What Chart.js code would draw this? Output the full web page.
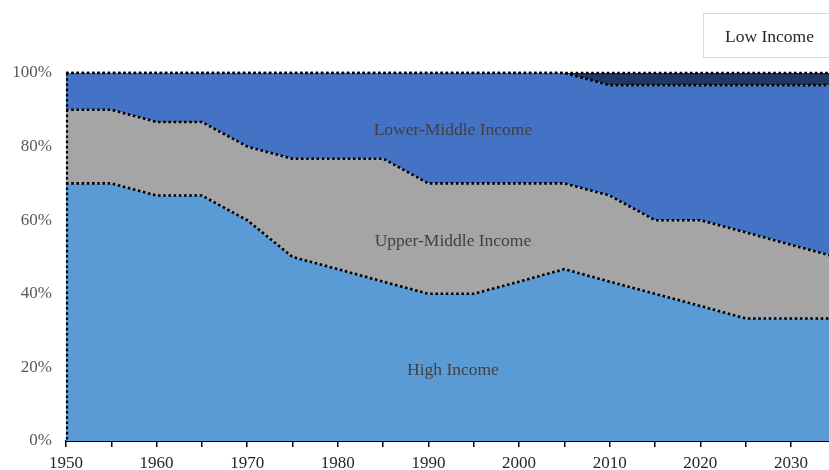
<!DOCTYPE html>
<html>
<head>
<meta charset="utf-8">
<script src="https://cdn.jsdelivr.net/npm/chart.js@4.4.1/dist/chart.umd.min.js"></script>
<style>
  html, body { margin: 0; padding: 0; background: #ffffff; }
  #wrap { width: 829px; height: 470px; }
</style>
</head>
<body>
<div id="wrap"><canvas id="c" width="829" height="470"></canvas></div>
<script>
// Share of world population by income group (%), five-year steps
const years = [1950,1955,1960,1965,1970,1975,1980,1985,1990,1995,2000,2005,2010,2015,2020,2025,2030,2035];
const highIncome  = [70,70,66.7,66.7,60,50,46.7,43.3,40,40,43.3,46.7,43.3,40,36.7,33.3,33.3,33.3];
const upperMiddle = [20,20,20,20,20,26.7,30,33.4,30,30,26.7,23.3,23.4,20,23.3,23.4,20,16.7];
const lowerMiddle = [10,10,13.3,13.3,20,23.3,23.3,23.3,30,30,30,30,30,36.7,36.7,40,43.4,46.7];
const lowIncome   = [0,0,0,0,0,0,0,0,0,0,0,0,3.3,3.3,3.3,3.3,3.3,3.3];

const seriesNames = ['High Income','Upper-Middle Income','Lower-Middle Income','Low Income'];
const xTickValues = [1950,1955,1960,1965,1970,1975,1980,1985,1990,1995,2000,2005,2010,2015,2020,2025,2030];
const xTickLabels = ['1950','','1960','','1970','','1980','','1990','','2000','','2010','','2020','','2030'];
const yTickValues = [0,20,40,60,80,100];

// In-area captions placed in data units (year, percent)
const captionText = ['Lower-Middle Income','Upper-Middle Income','High Income'];
const captionYear = [1992.7, 1992.7, 1992.7];
const captionPct  = [84.5, 54.3, 19.3];
const legendText = 'Low Income';

const SERIF = "'Liberation Serif', 'Times New Roman', serif";
const colors = ['#5b9bd5', '#a5a5a5', '#4472c4', '#203864'];
const values = [highIncome, upperMiddle, lowerMiddle, lowIncome];
const DOT = [2.6, 2.6];

const datasets = values.map((vals, i) => ({
  label: seriesNames[i],
  data: years.map((yr, k) => ({ x: yr, y: vals[k] })),
  backgroundColor: colors[i],
  borderColor: '#000000',
  borderWidth: 2.6,
  borderDash: DOT,
  borderCapStyle: 'butt',
  pointRadius: 0,
  tension: 0,
  clip: { left: 0, top: 4, right: 0, bottom: 0 },
  fill: i === 0 ? 'origin' : '-1'
}));

// Dotted left edge of the stacked areas
const leftEdge = {
  id: 'leftEdge',
  afterDatasetsDraw(chart) {
    const { ctx, chartArea } = chart;
    ctx.save();
    ctx.strokeStyle = '#000000';
    ctx.lineWidth = 2.2;
    ctx.setLineDash(DOT);
    ctx.beginPath();
    ctx.moveTo(chartArea.left + 1, chartArea.top);
    ctx.lineTo(chartArea.left + 1, chartArea.bottom);
    ctx.stroke();
    ctx.restore();
  }
};

const captions = {
  id: 'captions',
  afterDatasetsDraw(chart) {
    const { ctx, scales: { x, y } } = chart;
    ctx.save();
    ctx.font = '17.5px ' + SERIF;
    ctx.fillStyle = '#404040';
    ctx.textAlign = 'center';
    ctx.textBaseline = 'middle';
    captionText.forEach((t, i) => {
      ctx.fillText(t, x.getPixelForValue(captionYear[i]), y.getPixelForValue(captionPct[i]));
    });
    ctx.restore();
  }
};

const legendBox = {
  id: 'legendBox',
  afterDraw(chart) {
    const { ctx } = chart;
    ctx.save();
    ctx.fillStyle = '#ffffff';
    ctx.fillRect(703.5, 13.5, 140, 44);
    ctx.strokeStyle = '#d9d9d9';
    ctx.lineWidth = 1;
    ctx.strokeRect(703.5, 13.5, 140, 44);
    ctx.font = '17.5px ' + SERIF;
    ctx.fillStyle = '#262626';
    ctx.textAlign = 'left';
    ctx.textBaseline = 'middle';
    ctx.fillText(legendText, 725, 37);
    ctx.restore();
  }
};

new Chart(document.getElementById('c'), {
  type: 'line',
  data: { datasets },
  options: {
    responsive: false,
    animation: false,
    devicePixelRatio: 1,
    layout: { padding: { top: 73, right: 0, left: 0, bottom: 0 } },
    plugins: {
      legend: { display: false },
      tooltip: { enabled: false },
      filler: { propagate: false }
    },
    scales: {
      x: {
        type: 'linear',
        min: 1950,
        max: 2034.2,
        afterBuildTicks(scale) { scale.ticks = xTickValues.map(v => ({ value: v })); },
        afterFit(scale) { scale.height = 29; },
        ticks: {
          autoSkip: false,
          maxRotation: 0,
          padding: 6,
          color: '#262626',
          font: { family: SERIF, size: 17 },
          callback: (v, idx) => xTickLabels[idx]
        },
        grid: {
          display: true,
          drawOnChartArea: false,
          drawTicks: true,
          tickLength: 6,
          color: '#000000',
          lineWidth: 1.5
        },
        border: { display: true, color: '#000000', width: 2 }
      },
      y: {
        stacked: true,
        min: 0,
        max: 100,
        afterBuildTicks(scale) { scale.ticks = yTickValues.map(v => ({ value: v })); },
        afterFit(scale) { scale.width = 66; },
        ticks: {
          padding: 14,
          color: '#595959',
          font: { family: SERIF, size: 17 },
          callback: v => v + '%'
        },
        grid: { display: false, drawTicks: false },
        border: { display: false }
      }
    }
  },
  plugins: [leftEdge, captions, legendBox]
});
</script>
</body>
</html>
